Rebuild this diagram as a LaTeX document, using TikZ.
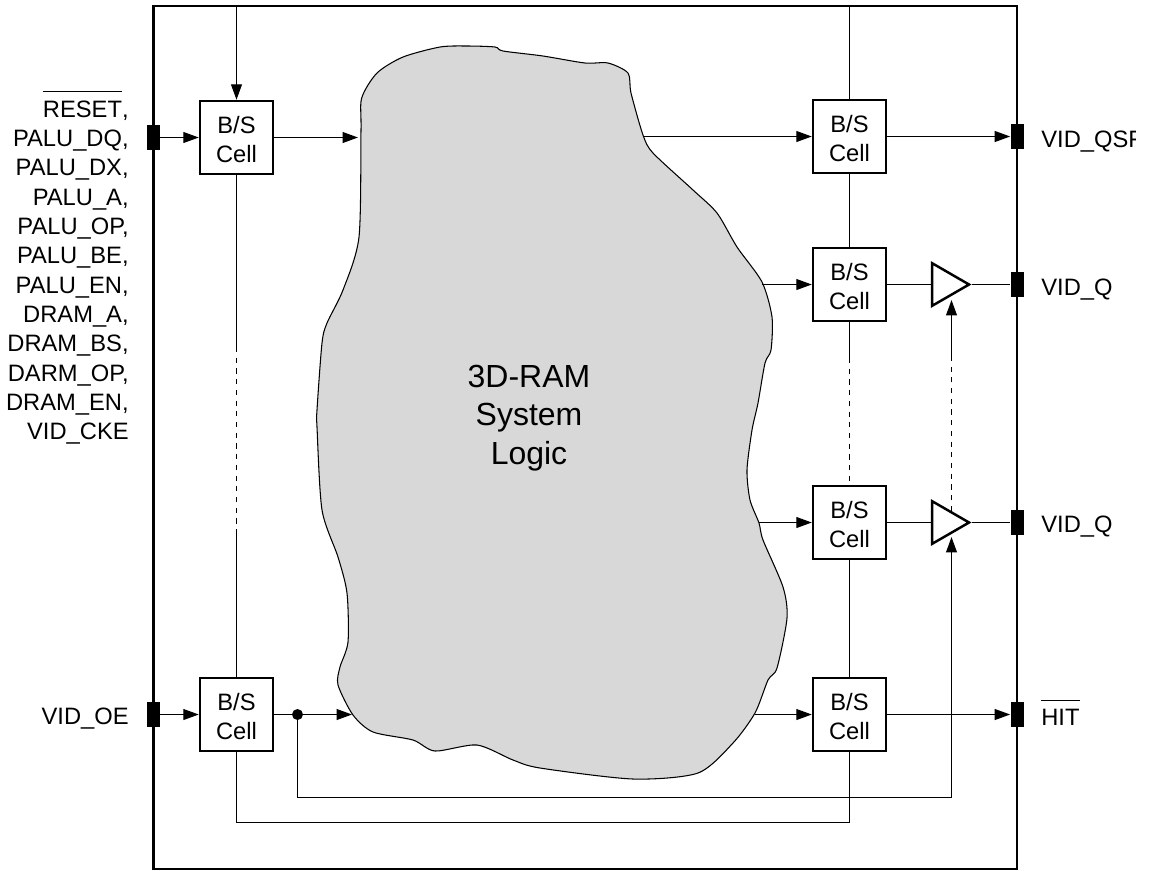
\documentclass[tikz,border=0pt]{standalone}
\usepackage{fontspec}
\setmainfont{Liberation Sans}
\usepackage{tikz}
\usetikzlibrary{arrows.meta, shapes.geometric}
\definecolor{BlobGray}{RGB}{216, 216, 216}
\newcommand{\sigbar}[1]{\vbox{\hrule height 0.6pt \kern 4.6pt \hbox{#1}}}
\newcommand{\celltext}{\rule{0pt}{12pt}B/S\\Cell}
\tikzset{
    cellbox/.style={draw, line width=1.4pt, fill=white, minimum width=1.46cm, minimum height=1.46cm, inner sep=0pt, align=center, font=\fontsize{13.5}{17}\selectfont},
    pinbox/.style={fill=black, minimum width=0.26cm, minimum height=0.5cm, inner sep=0pt},
    drvtri/.style={draw, line width=1.4pt, fill=white, isosceles triangle, isosceles triangle apex angle=60, minimum height=0.74cm, inner sep=0pt},
    sig/.style={line width=0.75pt},
    sigarrow/.style={sig, -{Triangle[length=8.8pt, width=6.2pt]}},
    dashsig/.style={sig, dash pattern=on 2.9pt off 3.2pt},
    siglabel/.style={inner sep=0pt, font=\fontsize{13.5}{16.7}\selectfont}
}

\begin{document}
\begin{tikzpicture}[x=0.02cm, y=-0.02cm]
    \useasboundingbox (0, 0) rectangle (1152, 870);

    %% --- Chip outline ---
    \draw[line width=1.5pt] (153.5, 6) rectangle (1017, 868.8);

    %% --- System logic outline ---
    \draw[fill=BlobGray, line width=0.6pt] plot[smooth cycle, tension=0.45] coordinates {
        (361.7,98) (377,73) (403,57) (440,47) (467,46) (495,47) (503,51) (543,56) (585,63)
        (608,63) (628,73) (631,93) (643,135) (653,153) (693,190) (717,213) (737,247) (762,282)
        (772,317) (771,350) (765,363) (758,403) (752,430) (747,470) (750,500) (759,523) (763,540)
        (783,587) (787,618) (777,668) (768,680) (755,713) (733,743) (698,773) (633,779) (540,768)
        (513,760) (477,745) (435,751) (413,740) (373,732) (353,715) (338,685) (340,667) (348,642)
        (347,593) (338,557) (322,510) (317,427) (317,410) (322,343) (327,323) (343,290) (359,237)
        (361,130)};
    \node[align=center, inner sep=0pt, font=\fontsize{18.2}{21.9}\selectfont] (logic) at (529, 418) {3D-RAM\\System\\Logic};

    %% --- Boundary scan cells ---
    \node[cellbox] (cellA) at (236.5, 137.5) {\celltext};
    \node[cellbox] (cellB) at (236.5, 714.5) {\celltext};
    \node[cellbox] (cellC) at (849.5, 136.5) {\celltext};
    \node[cellbox] (cellD) at (849.5, 284.5) {\celltext};
    \node[cellbox] (cellE) at (849.5, 522.5) {\celltext};
    \node[cellbox] (cellF) at (849.5, 714.5) {\celltext};

    %% --- Output drivers ---
    \node[drvtri, anchor=apex] (triD) at (971.5, 284.5) {};
    \node[drvtri, anchor=apex] (triE) at (971.5, 522.5) {};

    %% --- Package pins ---
    \node[pinbox] (pinA) at (153.5, 137.5) {};
    \node[pinbox] (pinB) at (153.5, 714.5) {};
    \node[pinbox] (pinC) at (1017, 136.5) {};
    \node[pinbox] (pinD) at (1017, 284.5) {};
    \node[pinbox] (pinE) at (1017, 522.5) {};
    \node[pinbox] (pinF) at (1017, 714.5) {};

    %% --- Points on the outline and on the wires ---
    \coordinate (topA) at (236.5, 6);
    \coordinate (topC) at (849.5, 6);
    \coordinate (blobInA) at (358, 137.5);
    \coordinate (blobInB) at (352, 714.5);
    \coordinate (blobOutC) at (643, 136.5);
    \coordinate (blobOutD) at (762, 284.5);
    \coordinate (blobOutE) at (759, 522.5);
    \coordinate (blobOutF) at (755, 714.5);
    \coordinate (dashA) at (236.5, 347);
    \coordinate (dashB) at (236.5, 534);
    \coordinate (dashC) at (849.5, 358);
    \coordinate (dashD) at (951.5, 358);
    \coordinate (topE) at (951.5, 511);
    \coordinate (oeTipD) at (951.5, 300);
    \coordinate (oeTipE) at (951.5, 537);
    \coordinate (oeTurn) at (951.5, 797.5);
    \coordinate (oeLeft) at (297.5, 797.5);
    \coordinate (scanRight) at (849.5, 822.5);
    \coordinate (scanLeft) at (236.5, 822.5);
    \node[circle, fill=black, minimum size=0.22cm, inner sep=0pt] (oeDot) at (297.5, 714.5) {};

    %% --- Scan chain ---
    \draw[sigarrow] (topA) -- (cellA.north);
    \draw[sig] (cellA.south) -- (dashA);
    \draw[dashsig] (dashA) -- (dashB);
    \draw[sig] (dashB) -- (cellB.north);
    \draw[sig] (cellB.south) -- (scanLeft) -- (scanRight) -- (cellF.south);
    \draw[sig] (topC) -- (cellC.north);
    \draw[sig] (cellC.south) -- (cellD.north);
    \draw[sig] (cellD.south) -- (dashC);
    \draw[dashsig] (dashC) -- (cellE.north);
    \draw[sig] (cellE.south) -- (cellF.north);

    %% --- Signal paths ---
    \draw[sigarrow] (pinA.east) -- (cellA.west);
    \draw[sigarrow] (cellA.east) -- (blobInA);
    \draw[sigarrow] (pinB.east) -- (cellB.west);
    \draw[sig] (cellB.east) -- (oeDot);
    \draw[sigarrow] (oeDot) -- (blobInB);
    \draw[sigarrow] (blobOutC) -- (cellC.west);
    \draw[sigarrow] (cellC.east) -- (pinC.west);
    \draw[sigarrow] (blobOutD) -- (cellD.west);
    \draw[sig] (cellD.east) -- (triD.west);
    \draw[sig] (triD.apex) -- (pinD.west);
    \draw[sigarrow] (blobOutE) -- (cellE.west);
    \draw[sig] (cellE.east) -- (triE.west);
    \draw[sig] (triE.apex) -- (pinE.west);
    \draw[sigarrow] (blobOutF) -- (cellF.west);
    \draw[sigarrow] (cellF.east) -- (pinF.west);

    %% --- Output enable ---
    \draw[sigarrow] (oeDot) -- (oeLeft) -- (oeTurn) -- (oeTipE);
    \draw[dashsig] (topE) -- (dashD);
    \draw[sigarrow] (dashD) -- (oeTipD);

    %% --- Pin names ---
    \node[siglabel, align=right, anchor=north east] (namesA) at (129, 91) {\sigbar{RESET},\\PALU\_DQ,\\PALU\_DX,\\PALU\_A,\\PALU\_OP,\\PALU\_BE,\\PALU\_EN,\\DRAM\_A,\\DRAM\_BS,\\DARM\_OP,\\DRAM\_EN,\\VID\_CKE};
    \node[siglabel, anchor=base east] (nameB) at (129, 724) {VID\_OE};
    \begin{scope}
        \clip (1030, 110) rectangle (1135, 170);
        \node[siglabel, anchor=base west] (nameC) at (1041, 147.5) {VID\_QSF};
    \end{scope}
    \node[siglabel, anchor=base west] (nameD) at (1041, 295) {VID\_Q};
    \node[siglabel, anchor=base west] (nameE) at (1041, 532) {VID\_Q};
    \node[siglabel, anchor=base west] (nameF) at (1041, 725) {\sigbar{HIT}};

\end{tikzpicture}
\end{document}
